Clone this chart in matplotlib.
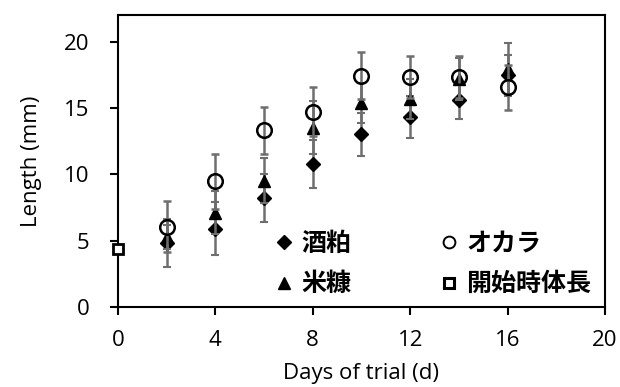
import matplotlib
matplotlib.use("Agg")
import matplotlib.pyplot as plt
from matplotlib.lines import Line2D

days = [2, 4, 6, 8, 10, 12, 14, 16]
sakekasu = [4.8, 5.9, 8.2, 10.8, 13.0, 14.3, 15.6, 17.5]
sakekasu_err = [1.8, 2.0, 1.8, 1.8, 1.65, 1.6, 1.45, 1.5]
nuka = [5.3, 7.1, 9.5, 13.5, 15.4, 15.7, 17.2, 17.9]
nuka_err = [0.9, 1.6, 1.7, 2.0, 1.5, 1.5, 1.6, 2.0]
okara = [6.06, 9.46, 13.3, 14.7, 17.43, 17.33, 17.33, 16.55]
okara_err = [1.9, 2.1, 1.8, 1.85, 1.75, 1.55, 1.6, 1.7]
start_day = [0]
start_len = [4.4]
labels = ["酒粕", "米糠", "オカラ", "開始時体長"]
xticks = [0, 4, 8, 12, 16, 20]
yticks = [0, 5, 10, 15, 20]

plt.rcParams['font.family'] = ['Open Sans', 'DejaVu Sans']

fig = plt.figure(figsize=(6.2, 3.87), dpi=100)
ax = fig.add_axes([0.19, 0.207, 0.786, 0.754])

ecol = '#6e6e6e'
ekw = dict(ecolor=ecol, elinewidth=1.8, capsize=3, capthick=1.5, linestyle='none')

ax.errorbar(days, sakekasu, yerr=sakekasu_err, marker='D', ms=7, color='black', zorder=3, **ekw)
ax.errorbar(days, nuka, yerr=nuka_err, marker='^', ms=9, color='black', zorder=4, **ekw)
ax.errorbar(days, okara, yerr=okara_err, marker='o', ms=10.5, mfc='none', mec='black', mew=1.8, zorder=5, **ekw)
ax.plot(start_day, start_len, marker='s', ms=7, mfc='white', mec='black', mew=2, linestyle='none', zorder=6, clip_on=False)

ax.set_xlim(0, 20)
ax.set_ylim(0, 22)
ax.set_xticks(xticks)
ax.set_yticks(yticks)
ax.tick_params(direction='out', length=5.5, width=1.5, labelsize=16, colors='black')
ax.tick_params(axis='x', pad=11)
ax.tick_params(axis='y', pad=15)
for s in ax.spines.values():
    s.set_linewidth(1.5)
ax.set_xlabel("Days of trial (d)", fontsize=16, labelpad=9)
ax.set_ylabel("Length (mm)", fontsize=16, labelpad=16)

handles = [
    Line2D([], [], marker='D', ms=7, color='black', linestyle='none'),
    Line2D([], [], marker='^', ms=8, color='black', linestyle='none'),
    Line2D([], [], marker='o', ms=8.5, mfc='white', mec='black', mew=1.4, linestyle='none'),
    Line2D([], [], marker='s', ms=7, mfc='white', mec='black', mew=2.2, linestyle='none'),
]
fs = 18
leg = ax.legend(handles, labels, ncol=2, loc='upper left',
                bbox_to_anchor=(276 / 620, 1 - 232 / 387), bbox_transform=fig.transFigure,
                frameon=False, borderpad=0, borderaxespad=0, handlelength=0.6, handletextpad=0.4,
                columnspacing=3.6, labelspacing=0.65,
                prop=dict(family=['Noto Sans CJK JP', 'DejaVu Sans'], size=fs, weight='bold'))

fig.savefig("out.png", dpi=100)
